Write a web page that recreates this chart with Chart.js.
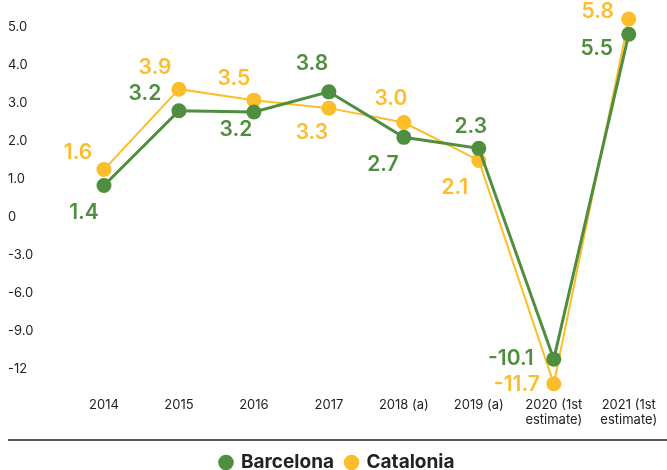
<!DOCTYPE html>
<html>
<head>
<meta charset="utf-8">
<script src="https://cdn.jsdelivr.net/npm/chart.js@4"></script>
<style>
  html, body { margin: 0; padding: 0; background: #fff; }
  #wrap { width: 667px; height: 470px; }
</style>
</head>
<body>
<div id="wrap"><canvas id="myChart" width="667" height="470"></canvas></div>
<script>
// categories
let years = ['2014', '2015', '2016', '2017', '2018 (a)', '2019 (a)', ['2020 (1st', 'estimate)'], ['2021 (1st', 'estimate)']];

// plotted positions, in axis units (0..5 as is, below zero one unit = 3 points)
let barcelonaPos = [0.83, 2.80, 2.77, 3.30, 2.10, 1.81, -3.75, 4.82];
let cataloniaPos = [1.25, 3.37, 3.08, 2.87, 2.49, 1.49, -4.40, 5.22];

// values printed next to the points
let barcelonaText = ['1.4', '3.2', '3.2', '3.8', '2.7', '2.3', '-10.1', '5.5'];
let cataloniaText = ['1.6', '3.9', '3.5', '3.3', '3.0', '2.1', '-11.7', '5.8'];

// y tick labels for axis units -4..5
let yTickValues = [-4, -3, -2, -1, 0, 1, 2, 3, 4, 5];
let yTickLabels = ['-12', '-9.0', '-6.0', '-3.0', '0', '1.0', '2.0', '3.0', '4.0', '5.0'];

const GREEN = '#4f8d3f';
const YELLOW = '#fcbd2b';
const FONT = 'Inter, Roboto, sans-serif';

// label offsets from the point centre (dx, dy)
let barcelonaOffsets = [[-20, 27], [-34, -17], [-18, 18], [-17, -28], [-21, 27], [-8, -22], [-43, 0], [-32, 14]];
let cataloniaOffsets = [[-26, -17], [-24, -21], [-20, -21], [-17, 25], [-13, -24], [-24, 27], [-37, 1], [-31, -7]];

const pointLabels = {
    id: 'pointLabels',
    afterDatasetsDraw(chart) {
        let ctx = chart.ctx;
        ctx.save();
        ctx.font = '600 21px ' + FONT;
        ctx.textAlign = 'center';
        ctx.textBaseline = 'middle';
        chart.data.datasets.forEach((ds, di) => {
            let meta = chart.getDatasetMeta(di);
            meta.data.forEach((pt, i) => {
                let off = ds.labelOffsets[i];
                ctx.fillStyle = ds.borderColor;
                ctx.fillText(ds.texts[i], pt.x + off[0], pt.y + off[1]);
            });
        });
        ctx.restore();
    }
};

const bottomRule = {
    id: 'bottomRule',
    afterDraw(chart) {
        let ctx = chart.ctx;
        let y = chart.legend.top - 1;
        ctx.save();
        ctx.strokeStyle = '#555';
        ctx.lineWidth = 2;
        ctx.beginPath();
        ctx.moveTo(8, y);
        ctx.lineTo(chart.width, y);
        ctx.stroke();
        ctx.restore();
    }
};

let ctx = document.getElementById('myChart').getContext('2d');
let myChart = new Chart(ctx, {
    type: 'line',
    data: {
        datasets: [{
            label: 'Barcelona',
            data: barcelonaPos.map((v, i) => ({x: i, y: v})),
            texts: barcelonaText,
            labelOffsets: barcelonaOffsets,
            borderColor: GREEN,
            backgroundColor: GREEN,
            borderWidth: 3,
            pointRadius: 7.5,
            pointHoverRadius: 7.5,
            pointBorderWidth: 0,
            tension: 0
        }, {
            label: 'Catalonia',
            data: cataloniaPos.map((v, i) => ({x: i, y: v})),
            texts: cataloniaText,
            labelOffsets: cataloniaOffsets,
            borderColor: YELLOW,
            backgroundColor: YELLOW,
            borderWidth: 2,
            pointRadius: 7.5,
            pointHoverRadius: 7.5,
            pointBorderWidth: 0,
            tension: 0
        }]
    },
    options: {
        responsive: false,
        animation: false,
        clip: false,
        layout: {
            padding: {left: 8, top: 0, right: 0, bottom: -12}
        },
        scales: {
            x: {
                type: 'linear',
                min: -0.72,
                max: 7.41,
                afterBuildTicks: (scale) => {
                    scale.ticks = years.map((_, i) => ({value: i}));
                },
                afterFit: (scale) => { scale.height = 51; },
                grid: {display: false, drawTicks: false},
                border: {display: false},
                ticks: {
                    autoSkip: false,
                    maxRotation: 0,
                    padding: 8,
                    color: '#222',
                    font: {family: FONT, size: 13, lineHeight: 1.15},
                    callback: (v) => years[v]
                }
            },
            y: {
                min: -4.563,
                max: 5.437,
                afterBuildTicks: (scale) => {
                    scale.ticks = yTickValues.map((v) => ({value: v}));
                },
                afterFit: (scale) => { scale.width = 42; },
                grid: {display: false, drawTicks: false},
                border: {display: false},
                ticks: {
                    crossAlign: 'far',
                    color: '#222',
                    font: {family: FONT, size: 13},
                    callback: (v) => yTickLabels[yTickValues.indexOf(v)]
                }
            }
        },
        plugins: {
            legend: {
                position: 'bottom',
                labels: {
                    usePointStyle: true,
                    pointStyle: 'circle',
                    boxWidth: 11,
                    boxHeight: 11,
                    padding: 12,
                    color: '#222',
                    font: {family: FONT, size: 19, weight: 'bold'}
                }
            },
            tooltip: {enabled: false}
        }
    },
    plugins: [pointLabels, bottomRule]
});
</script>
</body>
</html>
